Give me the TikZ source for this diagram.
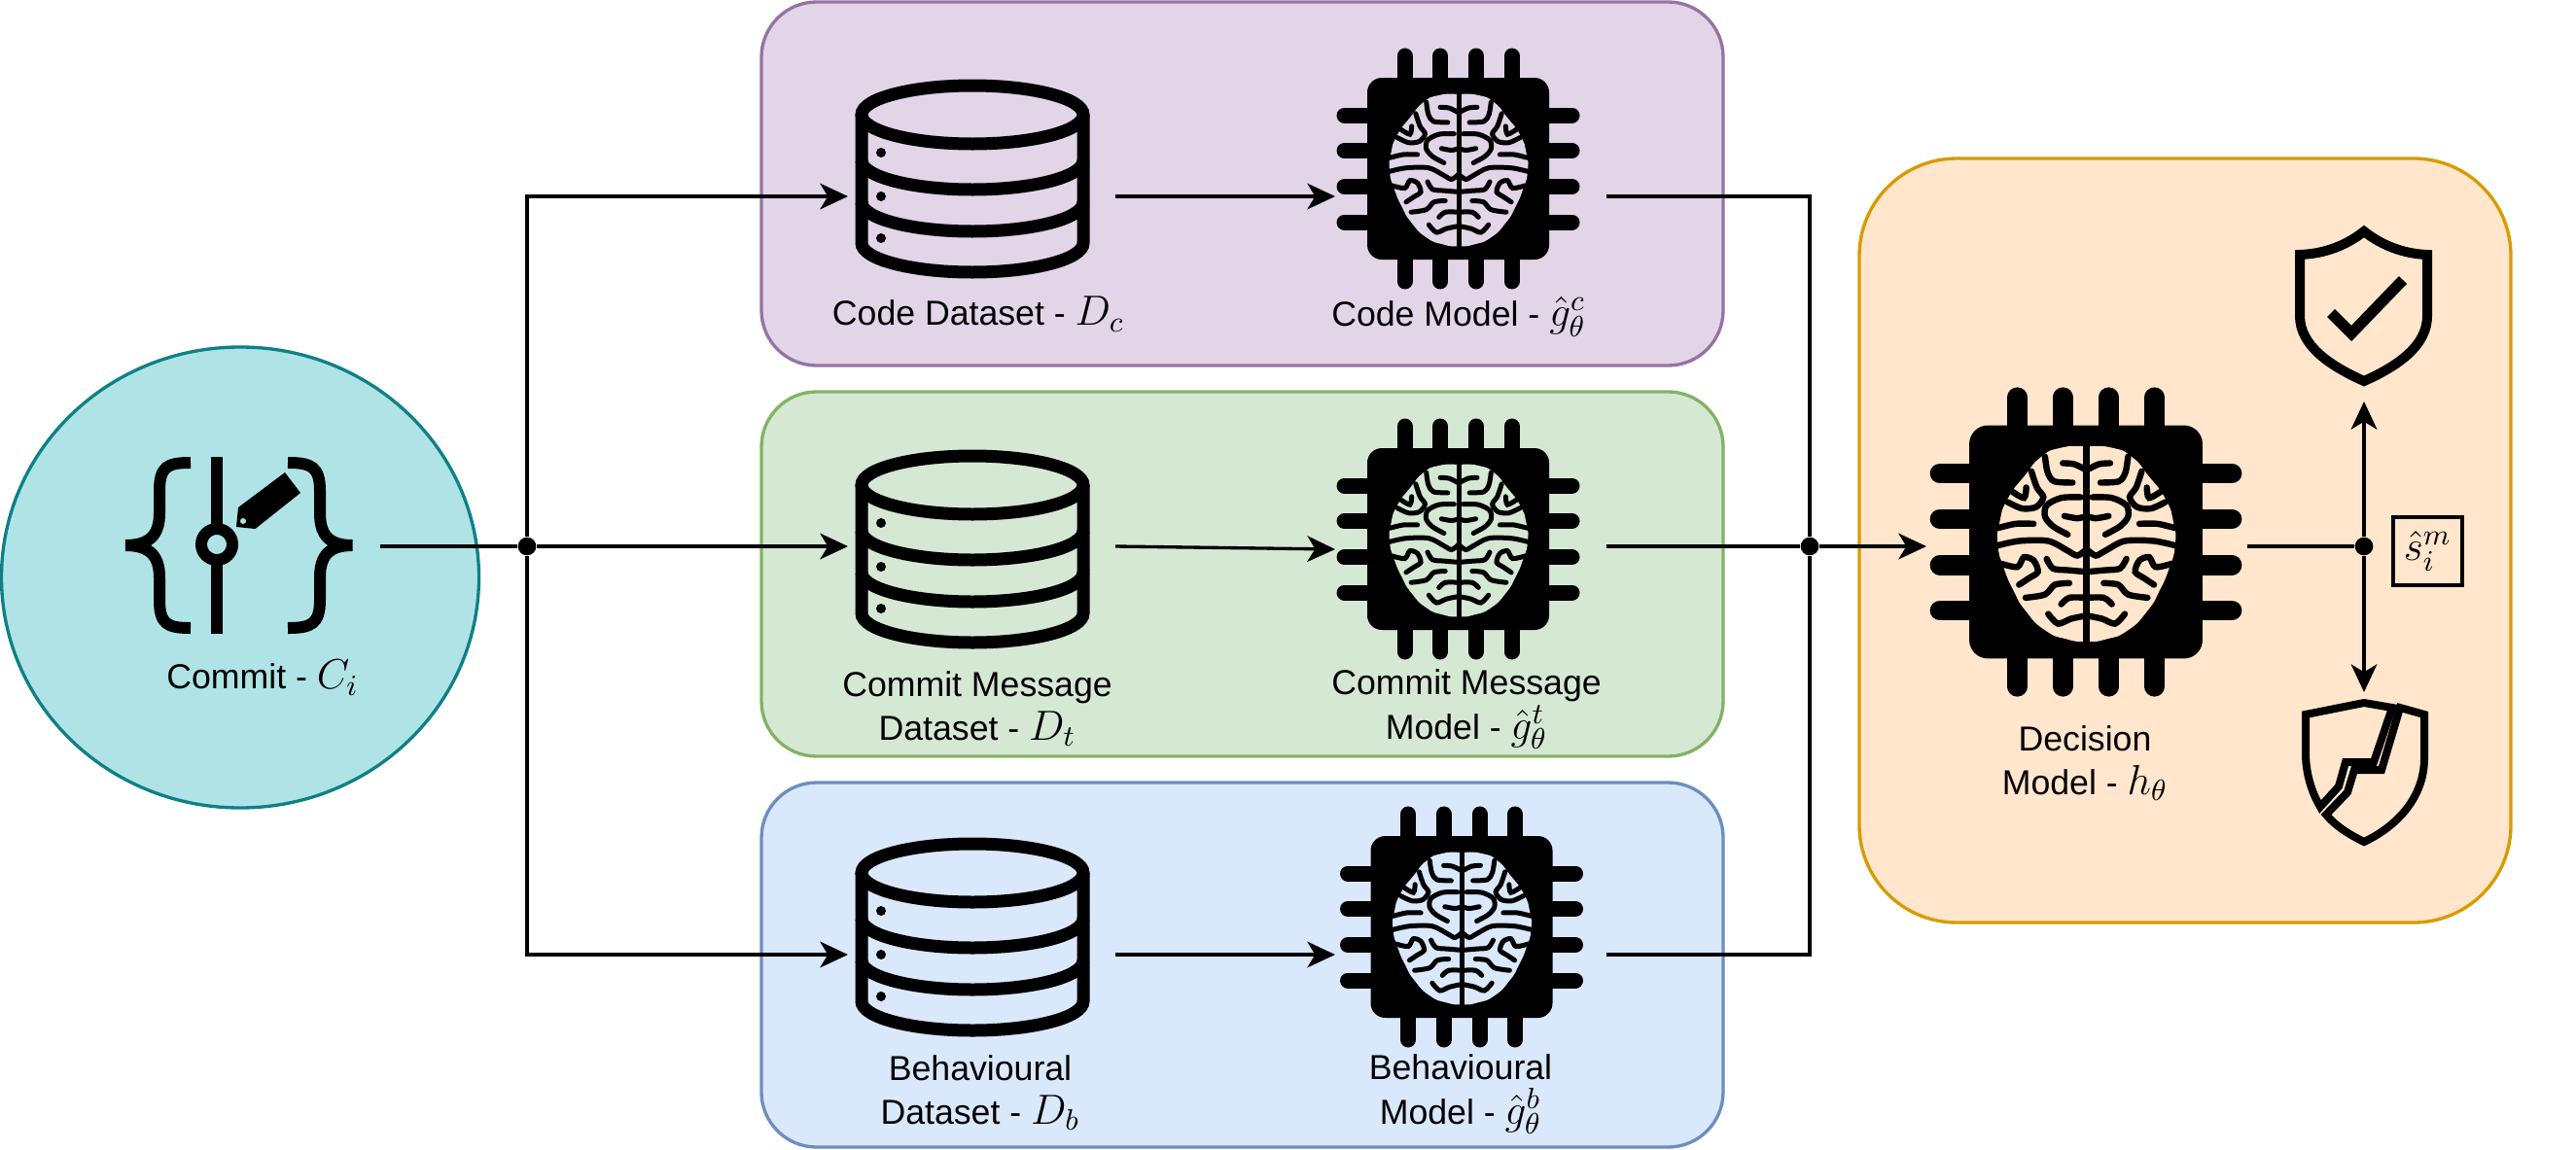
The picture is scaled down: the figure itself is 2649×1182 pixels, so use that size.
\documentclass[tikz,border=0pt]{standalone}
\usepackage{fix-cm}
\usepackage{fontspec}
\setmainfont{Liberation Sans}
\usetikzlibrary{arrows.meta,shapes.geometric}

\definecolor{commitFill}{HTML}{B0E3E6}
\definecolor{commitLine}{HTML}{0E8088}
\definecolor{codeFill}{HTML}{E1D5E7}
\definecolor{codeLine}{HTML}{9673A6}
\definecolor{textFill}{HTML}{D5E8D4}
\definecolor{textLine}{HTML}{82B366}
\definecolor{behavFill}{HTML}{DAE8FC}
\definecolor{behavLine}{HTML}{6C8EBF}
\definecolor{decisionFill}{HTML}{FFE6CC}
\definecolor{decisionLine}{HTML}{D79B00}

\newcommand*{\mathLabel}[1]{{\fontsize{13}{13.6}\selectfont$#1$}}

\tikzset{
	panel/.style 2 args={draw=#1,fill=#2,line width=1pt,inner sep=0pt,rounded corners=17pt},
	sized/.style 2 args={minimum width=#1*.3pt,minimum height=#2*.3pt},
	frame/.style={inner sep=0pt,outer sep=0pt},
	junction/.style={circle,fill=black,inner sep=0pt,minimum size=5.6pt},
	caption/.style={align=center,inner sep=0pt,font=\fontsize{10.7}{13.6}\selectfont},
	link/.style={line width=1pt},
	flow/.style={line width=1pt,-{Stealth[length=8.6pt,width=8pt,inset=2.4pt]}}
}

\newcommand*{\brainGyri}{
	\draw plot[smooth] coordinates {(-128,-263) (-120,-215) (-100,-187) (-43,-183)};
	\draw plot[smooth] coordinates {(-73,-243) (-38,-240) (-3,-223)};
	\draw plot[smooth] coordinates {(-170,-218) (-153,-168) (-133,-138) (-155,-108) (-198,-103) (-243,-123)};
	\draw plot[smooth] coordinates {(-233,-158) (-193,-136) (-186,-168)};
	\draw plot[smooth] coordinates {(-18,-138) (-78,-136) (-123,-113) (-128,-78) (-103,-48) (-58,-23)};
	\draw plot[smooth] coordinates {(-68,-80) (-28,-73) (0,-80)};
	\draw plot[smooth] coordinates {(-273,-43) (-218,-56) (-163,-56)};
	\draw plot[smooth] coordinates {(-278,12) (-208,-3) (-118,-3) (-58,27) (-28,42) (0,22)};
	\draw plot[smooth] coordinates {(-263,67) (-213,77) (-193,47) (-163,57) (-150,92) (-178,112) (-208,132)};
	\draw plot[smooth] coordinates {(-123,52) (-103,82) (-58,87) (0,92)};
	\draw plot[smooth] coordinates {(-188,172) (-128,162) (-98,132) (-53,127)};
	\draw plot[smooth] coordinates {(-78,192) (-53,172) (0,172)};
	\draw plot[smooth] coordinates {(-118,222) (-88,252) (-48,237) (0,227)};
}

\newcommand*{\chipIcon}[3]{
	\begin{scope}[shift={(#1)},scale=#2]
		\draw[line width={#2*4.8pt},line cap=round] (-55,-90) -- (-55,-116) (-18.5,-90) -- (-18.5,-116) (18.5,-90) -- (18.5,-116) (55,-90) -- (55,-116);
		\draw[line width={#2*4.8pt},line cap=round] (-55,90) -- (-55,116) (-18.5,90) -- (-18.5,116) (18.5,90) -- (18.5,116) (55,90) -- (55,116);
		\draw[line width={#2*4.8pt},line cap=round] (-90,-55) -- (-117,-55) (-90,-18.5) -- (-117,-18.5) (-90,18.5) -- (-117,18.5) (-90,55) -- (-117,55);
		\draw[line width={#2*4.8pt},line cap=round] (90,-55) -- (117,-55) (90,-18.5) -- (117,-18.5) (90,18.5) -- (117,18.5) (90,55) -- (117,55);
		\fill[black,rounded corners={#2*4.5pt}] (-93.5,-93.5) rectangle (93.5,93.5);
		\begin{scope}[shift={(.5,0)},scale=.26,line width={#2*1.5pt},line cap=round]
			\fill[#3] plot[smooth cycle,tension=1] coordinates {(0,-295) (-80,-290) (-140,-262) (-190,-205) (-243,-133) (-268,-60) (-273,10) (-255,80) (-225,150) (-188,212) (-128,272) (-60,300) (0,307) (60,300) (128,272) (188,212) (225,150) (255,80) (273,10) (268,-60) (243,-133) (190,-205) (140,-262) (80,-290)};
			\draw (0,-300) -- (0,310);
			\brainGyri
			\begin{scope}[xscale=-1]
				\brainGyri
			\end{scope}
		\end{scope}
	\end{scope}
}

\newcommand*{\dbIcon}[1]{
	\begin{scope}[shift={(#1)},line width=3.9pt]
		\draw (0,-67) ellipse [x radius=114,y radius=30];
		\draw (-114,-67) -- (-114,65) arc [start angle=180,end angle=0,x radius=114,y radius=30] -- (114,-67);
		\draw (-114,-20) arc [start angle=180,end angle=0,x radius=114,y radius=30];
		\draw (-114,23) arc [start angle=180,end angle=0,x radius=114,y radius=30];
		\fill (-94,-28) circle [radius=5];
		\fill (-94,17) circle [radius=5];
		\fill (-94,60) circle [radius=5];
	\end{scope}
}

\begin{document}
\begin{tikzpicture}[x=.3pt,y=-.3pt]
	\useasboundingbox (0,0) rectangle (2649,1182);

	\node[ellipse,draw=commitLine,fill=commitFill,line width=1pt,inner sep=0pt,sized={491}{474}] (commitCircle) at (247,594) {};
	\node[panel={codeLine}{codeFill},sized={989}{374}] (codeBox) at (1277.5,189) {};
	\node[panel={textLine}{textFill},sized={989}{375}] (textBox) at (1277.5,590.5) {};
	\node[panel={behavLine}{behavFill},sized={989}{375}] (behavBox) at (1277.5,992.5) {};
	\node[panel={decisionLine}{decisionFill},rounded corners=30pt,sized={670}{786}] (decisionBox) at (2247,556) {};

	\node[frame,sized={292}{182}] (commitIcon) at (245,562) {};
	\node[frame,sized={275}{205}] (dbCode) at (1009.5,202) {};
	\node[frame,sized={275}{205}] (dbText) at (1009.5,562) {};
	\node[frame,sized={275}{205}] (dbBehav) at (1009.5,982) {};
	\node[frame,sized={279}{249}] (chipCode) at (1512.5,202) {};
	\node[frame,sized={279}{249}] (chipText) at (1512.5,562) {};
	\node[frame,sized={279}{249}] (chipBehav) at (1512.5,982) {};
	\node[frame,sized={330}{320}] (chipDecision) at (2146,562) {};
	\node[frame,sized={150}{186}] (shieldOk) at (2431,320) {};
	\node[frame,sized={150}{166}] (shieldBad) at (2431,795) {};
	\node[junction] (busLeft) at (542,562) {};
	\node[junction] (busRight) at (1861,562) {};
	\node[junction] (busOut) at (2431,562) {};
	\coordinate (chipTextIn) at (1373,565);

	% icons
	\begin{scope}[line width=3.6pt]
		\draw (196,476) .. controls (172,476) and (164,480) .. (164,505) -- (164,528) .. controls (164,552) and (152,561) .. (129,561) .. controls (152,561) and (164,570) .. (164,594) -- (164,617) .. controls (164,642) and (172,646) .. (196,646);
		\draw (296,476) .. controls (320,476) and (329,480) .. (329,505) -- (329,528) .. controls (329,552) and (340,561) .. (362.5,561) .. controls (340,561) and (329,570) .. (329,594) -- (329,617) .. controls (329,642) and (320,646) .. (296,646);
		\draw (223,470) -- (223,652);
		\draw[fill=commitFill] (223,560) circle [radius=16];
	\end{scope}
	\fill (293,486) -- (309,507) -- (262.5,544) -- (243,542) -- (245,522) -- cycle;
	\fill[commitFill] (250,536) circle [radius=3];

	\dbIcon{1000,185}
	\dbIcon{1000,566}
	\dbIcon{1000,965}
	\chipIcon{1499.5,173.5}{1}{codeFill}
	\chipIcon{1499.5,554.5}{1}{textFill}
	\chipIcon{1503,953.5}{1}{behavFill}
	\chipIcon{2145,557.5}{1.283}{decisionFill}

	\draw[line width=3pt,line join=miter] (2431,238) .. controls (2412,253) and (2390,261) .. (2365,262) -- (2365,325) .. controls (2365,355) and (2395,376) .. (2431,392) .. controls (2467,376) and (2496,355) .. (2496,325) -- (2496,262) .. controls (2472,261) and (2450,253) .. (2431,238) -- cycle;
	\draw[line width=3.4pt] (2397,322) -- (2418,343) -- (2471,288);

	\draw[line width=2.4pt,line join=miter] (2460,728) -- (2431,723) -- (2371,735) -- (2371,775) .. controls (2371,800) and (2380,820) .. (2386,830) -- (2405,809) -- (2412,784) -- (2441,784) -- cycle;
	\draw[line width=2.4pt,line join=miter] (2468,728) -- (2493,735) -- (2493,780) .. controls (2493,820) and (2465,850) .. (2431,866) .. controls (2415,858) and (2402,850) .. (2392,838) -- (2414,815) -- (2421,792) -- (2449,792) -- cycle;

	% connectors
	\draw[link] (commitIcon.east) -- (busLeft);
	\draw[flow] (busLeft) |- (dbCode.west);
	\draw[flow] (busLeft) -- (dbText.west);
	\draw[flow] (busLeft) |- (dbBehav.west);
	\draw[flow] (dbCode.east) -- (chipCode.west);
	\draw[flow] (dbText.east) -- (chipTextIn);
	\draw[flow] (dbBehav.east) -- (chipBehav.west);
	\draw[link] (chipCode.east) -| (busRight);
	\draw[link] (chipText.east) -- (busRight);
	\draw[link] (chipBehav.east) -| (busRight);
	\draw[flow] (busRight) -- (chipDecision.west);
	\draw[link] (chipDecision.east) -- (busOut);
	\draw[flow] (busOut) -- (shieldOk.south);
	\draw[flow] (busOut) -- (shieldBad.north);

	% labels
	\node[caption] (commitLabel) at (270,697) {Commit - \mathLabel{C_i}};
	\node[caption] (dbCodeLabel) at (1006,323) {Code Dataset - \mathLabel{D_c}};
	\node[caption] (chipCodeLabel) at (1500,326) {Code Model - \mathLabel{\hat{g}_\theta^c}};
	\node[caption] (dbTextLabel) at (1005,729) {Commit Message\\Dataset - \mathLabel{D_t}};
	\node[caption] (chipTextLabel) at (1508,730) {Commit Message\\Model - \mathLabel{\hat{g}_\theta^t}};
	\node[caption] (dbBehavLabel) at (1008,1124) {Behavioural\\Dataset - \mathLabel{D_b}};
	\node[caption] (chipBehavLabel) at (1502,1126) {Behavioural\\Model - \mathLabel{\hat{g}_\theta^b}};
	\node[caption] (chipDecisionLabel) at (2144,785) {Decision\\Model - \mathLabel{h_\theta}};
	\node[draw,line width=1pt,inner sep=0pt,sized={71}{70},font=\fontsize{13}{14}\selectfont] (scoreBox) at (2496.5,567) {$\hat{s}_i^m$};
\end{tikzpicture}
\end{document}
